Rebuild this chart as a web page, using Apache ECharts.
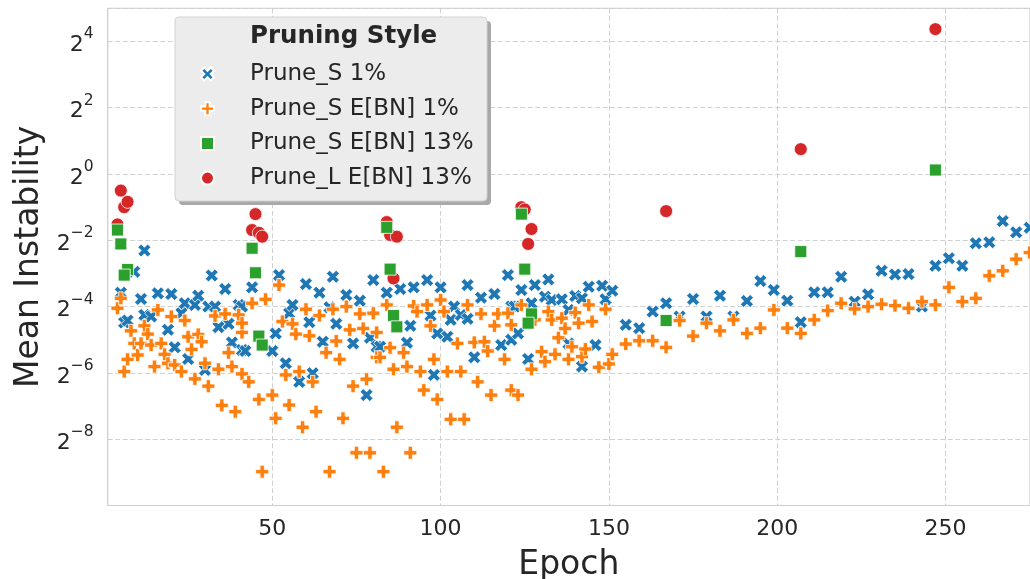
<!DOCTYPE html>
<html><head><meta charset="utf-8">
<script src="https://cdn.jsdelivr.net/npm/echarts@6/dist/echarts.min.js"></script>
<style>html,body{margin:0;padding:0;background:#fff}#c{width:1030px;height:579px}</style>
</head><body><div id="c"></div>
<script>
// Series names (legend order)
const seriesNames = ['Prune_S 1%', 'Prune_S E[BN] 1%', 'Prune_S E[BN] 13%', 'Prune_L E[BN] 13%'];
// y tick exponents shown (labels 2^n)
const yTickExponents = [-8, -6, -4, -2, 0, 2, 4];
const xTickLabels = [50, 100, 150, 200, 250];

// [epoch, log2(Mean Instability)]
const pruneS1 = [
 [5,-3.58],[6,-4.48],[7,-4.42],[9,-2.95],[11,-3.77],[12,-2.31],[12,-4.25],[14,-4.3],[16,-3.6],[19,-4.7],
 [20,-3.62],[21,-5.23],[23,-4.2],[24,-3.9],[25,-5.58],[27,-3.95],[28,-3.67],[30,-5.91],[31,-4.0],[32,-3.06],
 [33,-4.0],[34,-4.62],[36,-3.47],[37,-4.52],[38,-5.08],[40,-3.95],[41,-5.31],[41,-4.0],[42,-5.34],[44,-3.42],
 [50,-5.34],[51,-4.81],[52,-3.05],[54,-5.71],[55,-4.2],[56,-3.95],[58,-6.27],[60,-3.32],[61,-4.47],[62,-6.01],
 [64,-3.58],[65,-5.06],[67,-4.02],[68,-3.1],[69,-4.52],[72,-3.65],[74,-5.11],[76,-3.82],[78,-6.67],[79,-4.94],
 [80,-3.2],[81,-5.21],[82,-5.21],[84,-3.58],[88,-3.47],[90,-5.09],[91,-4.58],[92,-3.42],[96,-3.2],[97,-4.27],
 [98,-6.06],[99,-4.81],[100,-3.42],[102,-4.91],[103,-4.4],[104,-4.0],[106,-4.25],[108,-3.35],[108,-4.37],[110,-5.53],
 [112,-3.73],[116,-3.62],[118,-5.16],[120,-3.05],[121,-4.0],[121,-5.0],[122,-4.0],[123,-4.81],[124,-3.5],[126,-5.58],
 [127,-3.9],[128,-3.35],[131,-3.7],[132,-3.18],[133,-3.8],[136,-3.78],[138,-4.1],[138,-5.11],[140,-3.68],[142,-3.75],
 [142,-5.81],[144,-3.4],[146,-5.16],[148,-3.37],[149,-3.78],[151,-3.52],
 [155,-4.55],[159,-4.65],[163,-4.15],[167,-3.9],[171,-4.3],[175,-3.77],[179,-4.3],[183,-3.67],[187,-4.3],[191,-3.83],
 [195,-3.23],[199,-3.5],[203,-3.82],[207,-4.47],[211,-3.57],[215,-3.57],[219,-3.1],[223,-3.85],[227,-3.63],[231,-2.92],
 [235,-3.03],[239,-3.02],[243,-4.0],[247,-2.77],[251,-2.54],[255,-2.77],[259,-2.09],[263,-2.06],[267,-1.42],[271,-1.76],
 [275,-1.62]
];
const pruneSEbn1 = [
 [4,-4.05],[5,-3.75],[6,-5.96],[7,-5.59],[8,-4.73],[9,-5.11],[10,-5.46],[11,-5.11],[12,-4.58],[13,-4.83],
 [14,-5.16],[15,-5.81],[16,-4.1],[17,-5.11],[18,-5.44],[19,-5.71],[20,-4.3],[21,-5.76],[23,-5.96],[24,-4.42],
 [25,-4.91],[26,-5.29],[27,-6.18],[28,-4.84],[29,-5.06],[30,-5.71],[31,-6.4],[33,-4.28],[34,-5.89],[35,-6.98],
 [36,-4.22],[37,-5.39],[38,-5.81],[39,-7.17],[40,-4.25],[41,-4.78],[41,-6.03],[41,-4.5],[43,-6.27],[44,-3.9],
 [46,-6.8],[47,-8.98],[48,-3.78],[50,-6.67],[51,-7.37],[52,-3.35],[53,-4.45],[54,-6.06],[55,-6.97],[56,-4.52],
 [57,-4.83],[58,-5.96],[59,-7.64],[60,-4.08],[61,-4.88],[62,-6.27],[63,-7.17],[64,-4.27],[66,-5.39],[67,-8.98],
 [68,-4.08],[69,-5.04],[70,-5.59],[71,-7.37],[72,-4.0],[73,-4.7],[74,-6.4],[75,-8.41],[76,-4.22],[77,-4.66],
 [78,-6.19],[79,-8.41],[80,-4.2],[81,-4.78],[81,-5.53],[82,-5.53],[83,-8.98],[84,-3.95],[85,-5.24],[86,-5.89],
 [87,-7.64],[89,-5.39],[90,-5.81],[91,-8.41],[92,-3.98],[93,-4.15],[94,-5.96],[95,-6.52],[96,-3.95],[97,-4.58],
 [98,-5.59],[99,-6.8],[100,-3.8],[101,-4.15],[102,-5.96],[103,-7.4],[105,-5.11],[106,-5.96],[107,-7.4],[108,-3.95],
 [110,-5.08],[111,-6.27],[112,-4.22],[113,-5.06],[114,-5.34],[115,-6.67],[116,-4.58],[117,-4.22],[119,-5.59],[120,-4.2],
 [121,-4.55],[121,-6.52],[123,-6.67],[124,-3.95],[127,-5.89],[128,-4.4],[130,-5.36],[131,-5.66],[132,-4.15],[133,-4.4],
 [134,-5.44],[135,-4.94],[136,-4.35],[137,-4.66],[138,-5.59],[139,-5.21],[140,-4.18],[141,-4.5],[142,-5.51],[143,-5.28],
 [144,-3.95],[145,-4.45],[147,-5.83],[149,-4.08],[150,-5.73],[151,-5.44],
 [155,-5.13],[159,-5.03],[163,-5.03],[167,-5.23],[171,-4.42],[175,-4.89],[179,-4.5],[183,-4.73],[187,-4.4],[191,-4.81],
 [195,-4.65],[199,-4.1],[203,-4.65],[207,-4.81],[211,-4.4],[215,-4.12],[219,-3.9],[223,-4.07],[227,-4.0],[231,-3.93],
 [235,-3.97],[239,-4.05],[243,-3.85],[247,-3.95],[251,-3.42],[255,-3.85],[259,-3.75],[263,-3.07],[267,-2.92],[271,-2.57],
 [275,-2.37]
];
const pruneSEbn13 = [
 [4,-1.69],[5,-2.11],[7,-2.88],[6,-3.05],[44,-2.24],[45,-2.98],[46,-4.89],[47,-5.16],[84,-1.61],[85,-2.87],
 [86,-4.27],[87,-4.61],[124,-1.21],[125,-2.87],[127,-4.22],[126,-4.5],[167,-4.42],[207,-2.34],[247,0.12]
];
const pruneLEbn13 = [
 [4,-1.52],[5,-0.5],[6,-1.0],[7,-0.84],[44,-1.69],[45,-1.21],[46,-1.77],[47,-1.89],[84,-1.45],[85,-1.84],
 [86,-3.15],[87,-1.89],[124,-1.0],[125,-1.07],[126,-2.11],[127,-1.66],[167,-1.12],[207,0.75],[247,4.37]
];

const colors = ['#1f77b4', '#ff7f0e', '#2ca02c', '#d62728'];
const symX = 'path://M2,-4L0,-2L-2,-4L-4,-2L-2,0L-4,2L-2,4L0,2L2,4L4,2L2,0L4,-2Z';
const symPlus = 'path://M-1,-3L-1,-1L-3,-1L-3,1L-1,1L-1,3L1,3L1,1L3,1L3,-1L1,-1L1,-3Z';
const toData = arr => arr.map(p => [p[0], Math.pow(2, p[1])]);
const FONT = 'DejaVu Sans';
const TXT = '#262626';

function mk(name, data, color, symbol, size, z) {
  return {
    name, type: 'scatter', data: toData(data), symbol, symbolSize: size, z,
    itemStyle: { color, borderColor: '#ffffff', borderWidth: 0.8, opacity: 1 },
    emphasis: { disabled: true }, animation: false
  };
}

const chart = echarts.init(document.getElementById('c'), null, { renderer: 'canvas' });
chart.setOption({
  animation: false,
  backgroundColor: '#ffffff',
  grid: { left: 107.7, right: 0, top: 8.25, bottom: 73.5, show: true, borderColor: '#cccccc', borderWidth: 1.2, backgroundColor: '#ffffff', containLabel: false, outerBoundsMode: 'none' },
  xAxis: {
    type: 'value', min: 1.1, max: 275.1, splitNumber: 5,
    name: 'Epoch', nameLocation: 'middle', nameGap: 43,
    nameTextStyle: { fontFamily: FONT, fontSize: 33, color: TXT },
    axisLine: { show: false }, axisTick: { show: false },
    axisLabel: { fontFamily: FONT, fontSize: 22, color: TXT, margin: 13, showMinLabel: true, showMaxLabel: true,
      formatter: v => (xTickLabels.indexOf(Math.round(v)) >= 0 && Math.abs(v - Math.round(v)) < 1e-6) ? String(Math.round(v)) : '' },
    splitLine: { show: true, lineStyle: { color: '#d0d0d0', type: [5, 2.5], width: 1 } }
  },
  yAxis: {
    type: 'log', logBase: 2, min: Math.pow(2, -10), max: Math.pow(2, 5), interval: 2,
    name: 'Mean Instability', nameLocation: 'middle', nameGap: 61, nameRotate: 90,
    nameTextStyle: { fontFamily: FONT, fontSize: 33, color: TXT },
    axisLine: { show: false }, axisTick: { show: false },
    axisLabel: { fontFamily: FONT, color: TXT, margin: 14,
      formatter: v => {
        const l = Math.log2(v); const e = Math.round(l);
        if (Math.abs(l - e) > 1e-6 || yTickExponents.indexOf(e) < 0) return '';
        return '{b|2}{s|' + (e < 0 ? '\u2212' + (-e) : String(e)) + '}';
      },
      rich: {
        b: { fontFamily: FONT, fontSize: 22, color: TXT, lineHeight: 30, verticalAlign: 'bottom' },
        s: { fontFamily: FONT, fontSize: 15.5, color: TXT, lineHeight: 30, verticalAlign: 'top' }
      }
    },
    splitLine: { show: true, lineStyle: { color: '#d0d0d0', type: [5, 2.5], width: 1 } }
  },
  legend: {
    show: true, orient: 'vertical', left: 195, top: 56, z: 20,
    data: seriesNames, itemWidth: 13, itemHeight: 13, itemGap: 8.7,
    textStyle: { fontFamily: FONT, fontSize: 23, color: TXT, lineHeight: 26, padding: [0, 0, 0, 31] },
    selectedMode: false
  },
  graphic: [
    { type: 'rect', z: 10, shape: { x: 179, y: 21, width: 312, height: 184, r: 4 }, style: { fill: '#a9a9a9' } },
    { type: 'rect', z: 11, shape: { x: 175, y: 17, width: 312, height: 184, r: 4 }, style: { fill: '#ececec', stroke: '#d2d2d2', lineWidth: 1 } },
    { type: 'text', z: 12, left: 250, top: 24, style: { text: 'Pruning Style', fontFamily: FONT, fontWeight: 'bold', fontSize: 24.5, fill: TXT } }
  ],
  series: [
    mk(seriesNames[0], pruneS1, colors[0], symX, 13, 2),
    mk(seriesNames[1], pruneSEbn1, colors[1], symPlus, 13, 3),
    mk(seriesNames[3], pruneLEbn13, colors[3], 'circle', 13, 4),
    mk(seriesNames[2], pruneSEbn13, colors[2], 'rect', 12, 5)
  ]
});
</script></body></html>
